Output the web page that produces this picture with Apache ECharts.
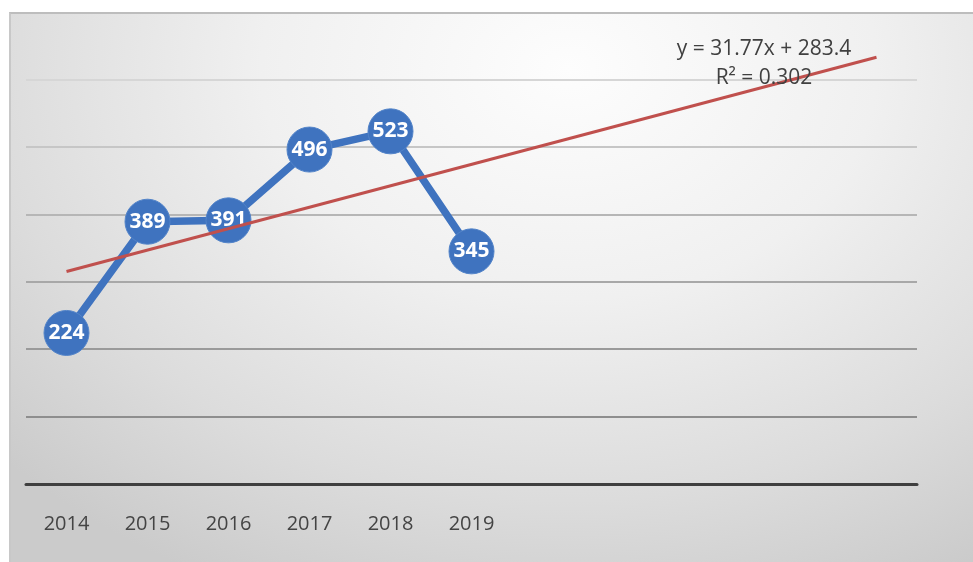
<!DOCTYPE html>
<html>
<head>
<meta charset="utf-8">
<script src="https://cdn.jsdelivr.net/npm/echarts@6/dist/echarts.min.js"></script>
<style>
  html, body { margin: 0; padding: 0; background: #ffffff; }
  #panel {
    position: absolute; left: 9px; top: 12px; width: 964px; height: 550px;
    background: radial-gradient(ellipse 80% 105% at 58% 10%, #fdfdfd 0%, #f0f0f0 40%, #dcdcdc 75%, #cbcbcb 100%);
    border-left: 2px solid #c8c8c8; border-top: 2px solid #bdbdbd;
    box-sizing: border-box;
  }
  #chart { position: absolute; left: 0; top: 0; width: 973px; height: 562px; }
</style>
</head>
<body>
<div id="panel"></div>
<div id="chart"></div>
<script>
// Years shown on the category axis; the axis is padded with blank slots
// so the linear trend can be projected forward.
const years = ['2014', '2015', '2016', '2017', '2018', '2019'];
const forecastSlots = 5;
const values = [224, 389, 391, 496, 523, 345];

// Linear trend (x = 1 for the first year) as printed on the chart
const trendSlope = 31.77;
const trendIntercept = 283.4;
const trendR2 = 0.302;

const categories = years.concat(new Array(forecastSlots).fill(''));
const lastIndex = categories.length - 1;
const trendPoints = [
  [0, trendSlope * 1 + trendIntercept],
  [lastIndex, trendSlope * (lastIndex + 1) + trendIntercept]
];

// Gridlines fade from dark at the baseline to light near the top
const gridColors = ['#8a8a8a', '#8e8e8e', '#9a9a9a', '#a8a8a8', '#b6b6b6', '#c6c6c6', '#d6d6d6', '#e0e0e0'];

const textFont = '"Open Sans", sans-serif';

const chart = echarts.init(document.getElementById('chart'), null, { renderer: 'canvas' });

chart.setOption({
  backgroundColor: 'transparent',
  animation: false,
  grid: { left: 26, right: 56, top: 12, bottom: 78, containLabel: false },
  xAxis: {
    type: 'category',
    data: categories,
    boundaryGap: true,
    z: 5,
    axisLine: { show: true, lineStyle: { color: '#3f3f3f', width: 3 } },
    axisTick: { show: false },
    axisLabel: {
      margin: 30,
      fontSize: 20,
      color: '#444444',
      fontFamily: textFont
    },
    splitLine: { show: false }
  },
  yAxis: {
    type: 'value',
    min: 0,
    max: 700,
    interval: 100,
    axisLine: { show: false },
    axisTick: { show: false },
    axisLabel: { show: false },
    splitLine: {
      show: true,
      showMaxLine: false,
      lineStyle: { color: gridColors, width: 2 }
    }
  },
  series: [
    {
      name: 'values',
      type: 'line',
      data: values,
      z: 2,
      symbol: 'circle',
      symbolSize: 45,
      lineStyle: { color: '#3f73bf', width: 7.5 },
      itemStyle: { color: '#3f73bf', borderColor: '#5283c8', borderWidth: 1 },
      label: {
        show: true,
        position: 'inside',
        color: '#ffffff',
        fontSize: 21,
        fontWeight: 'bold',
        fontFamily: textFont
      }
    },
    {
      name: 'trend',
      type: 'line',
      data: trendPoints,
      z: 3,
      symbol: 'none',
      silent: true,
      lineStyle: { color: '#c0504d', width: 3 }
    }
  ],
  graphic: [
    {
      type: 'text',
      x: 764,
      y: 49,
      z: 10,
      style: {
        text: 'y = ' + trendSlope + 'x + ' + trendIntercept,
        fontSize: 21,
        fill: '#404040',
        fontFamily: textFont,
        align: 'center',
        verticalAlign: 'middle'
      }
    },
    {
      type: 'text',
      x: 764,
      y: 78,
      z: 10,
      style: {
        text: 'R² = ' + trendR2,
        fontSize: 21,
        fill: '#404040',
        fontFamily: textFont,
        align: 'center',
        verticalAlign: 'middle'
      }
    }
  ]
});
</script>
</body>
</html>
